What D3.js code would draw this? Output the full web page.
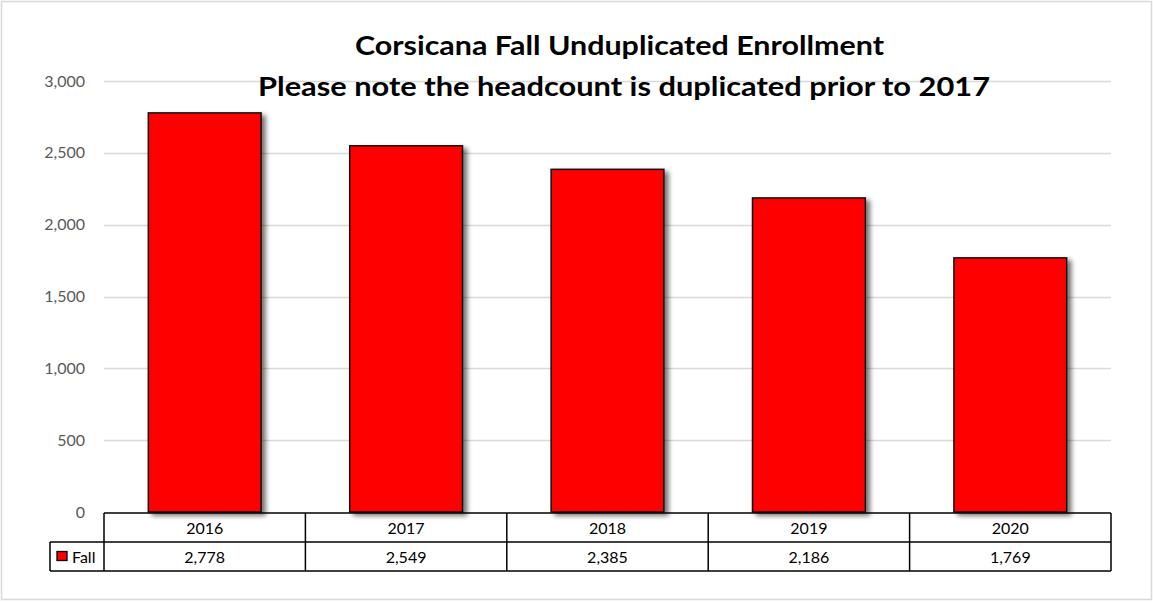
<!DOCTYPE html>
<html><head><meta charset="utf-8">
<script src="https://cdn.jsdelivr.net/npm/d3@7"></script>
<style>body{margin:0;background:#fff;} svg{display:block;}</style>
</head><body>
<svg id="c" width="1153" height="602"></svg>
<script>
const categories = ["2016","2017","2018","2019","2020"];
const fallValues = [2778, 2549, 2385, 2186, 1769];
const yTicks = [0, 500, 1000, 1500, 2000, 2500, 3000];
const seriesName = "Fall";
const titleLines = ["Corsicana Fall Unduplicated Enrollment", "Please note the headcount is duplicated prior to 2017"];

(function(){
const svg = d3.select("#c");
const W = 1153, H = 602;
const pL = 104, pR = 1111, pT = 81, pB = 512;
const font = "Lato, Calibri, 'Open Sans', sans-serif";

svg.append("rect").attr("x",1.5).attr("y",1.5).attr("width",W-3).attr("height",H-4)
  .attr("fill","#fff").attr("stroke","#d9d9d9").attr("stroke-width",1.5);

const defs = svg.append("defs");
const f = defs.append("filter").attr("id","sh").attr("x","-20%").attr("y","-20%").attr("width","150%").attr("height","150%");
f.append("feGaussianBlur").attr("in","SourceAlpha").attr("stdDeviation",2.5).attr("result","b");
f.append("feOffset").attr("in","b").attr("dx",4).attr("dy",3).attr("result","o");
f.append("feComponentTransfer").attr("in","o").attr("result","o2").append("feFuncA").attr("type","linear").attr("slope",0.55);
const m = f.append("feMerge"); m.append("feMergeNode").attr("in","o2"); m.append("feMergeNode").attr("in","SourceGraphic");

const x = d3.scaleBand().domain(categories).range([pL,pR]).paddingInner(0.44).paddingOuter(0.22);
const xc = d3.scaleBand().domain(categories).range([pL,pR]);
const y = d3.scaleLinear().domain([0,3000]).range([pB,pT]);

svg.append("g").selectAll("line").data(yTicks.filter(d=>d>0)).join("line")
  .attr("x1",pL).attr("x2",pR).attr("y1",d=>Math.round(y(d))+0.5).attr("y2",d=>Math.round(y(d))+0.5)
  .attr("stroke","#d9d9d9").attr("stroke-width",1.3);

const yAxis = d3.axisLeft(y).tickValues(yTicks).tickFormat(d3.format(",")).tickSize(0).tickPadding(19);
const ga = svg.append("g").attr("transform",`translate(${pL},0)`).call(yAxis);
ga.select(".domain").remove();
ga.selectAll("text").attr("font-family",font).attr("font-size",16).attr("fill","#595959");

svg.append("g").selectAll("rect").data(categories).join("rect")
  .attr("x",d=>x(d)).attr("y",(d,i)=>y(fallValues[i])).attr("width",x.bandwidth())
  .attr("height",(d,i)=>pB-y(fallValues[i]))
  .attr("fill","#ff0000").attr("stroke","#111").attr("stroke-width",1.5).attr("filter","url(#sh)");

const rowH = 29, r1 = 513, r2 = r1+rowH, r3 = r2+rowH, legL = 50;
const tg = svg.append("g").attr("fill","none").attr("stroke","#000").attr("stroke-width",1.5);
tg.append("line").attr("x1",pL).attr("x2",pR).attr("y1",r1).attr("y2",r1);
tg.append("line").attr("x1",legL).attr("x2",pR).attr("y1",r2).attr("y2",r2);
tg.append("line").attr("x1",legL).attr("x2",pR).attr("y1",r3).attr("y2",r3);
tg.append("line").attr("x1",legL).attr("x2",legL).attr("y1",r2).attr("y2",r3);
tg.selectAll("line.v").data(categories.concat(["end"])).join("line").attr("class","v")
  .attr("x1",d=>d==="end"?pR:xc(d)).attr("x2",d=>d==="end"?pR:xc(d)).attr("y1",r1).attr("y2",r3);

const txt = svg.append("g").attr("font-family",font).attr("font-size",16).attr("fill","#000").attr("text-anchor","middle");
txt.selectAll("text.cat").data(categories).join("text").attr("class","cat")
  .attr("x",d=>xc(d)+xc.bandwidth()/2).attr("y",r1+rowH/2+6).text(d=>d);
txt.selectAll("text.val").data(fallValues).join("text").attr("class","val")
  .attr("x",(d,i)=>xc(categories[i])+xc.bandwidth()/2).attr("y",r2+rowH/2+6).text(d=>d3.format(",")(d));

svg.append("rect").attr("x",57).attr("y",551.5).attr("width",10).attr("height",9)
  .attr("fill","#ff0000").attr("stroke","#000").attr("stroke-width",1.3);
svg.append("text").attr("x",72).attr("y",r2+rowH/2+6).attr("font-family",font).attr("font-size",16).text(seriesName);

const tl = [529, 732];
svg.append("g").selectAll("text").data(titleLines).join("text")
  .attr("x",(d,i)=>i===0?619.5:624).attr("y",(d,i)=>55+i*41).attr("text-anchor","middle")
  .attr("textLength",(d,i)=>tl[i]).attr("lengthAdjust","spacingAndGlyphs")
  .attr("font-family",font).attr("font-weight","bold").attr("font-size",27).attr("fill","#000").text(d=>d);
})();
</script>
</body></html>
